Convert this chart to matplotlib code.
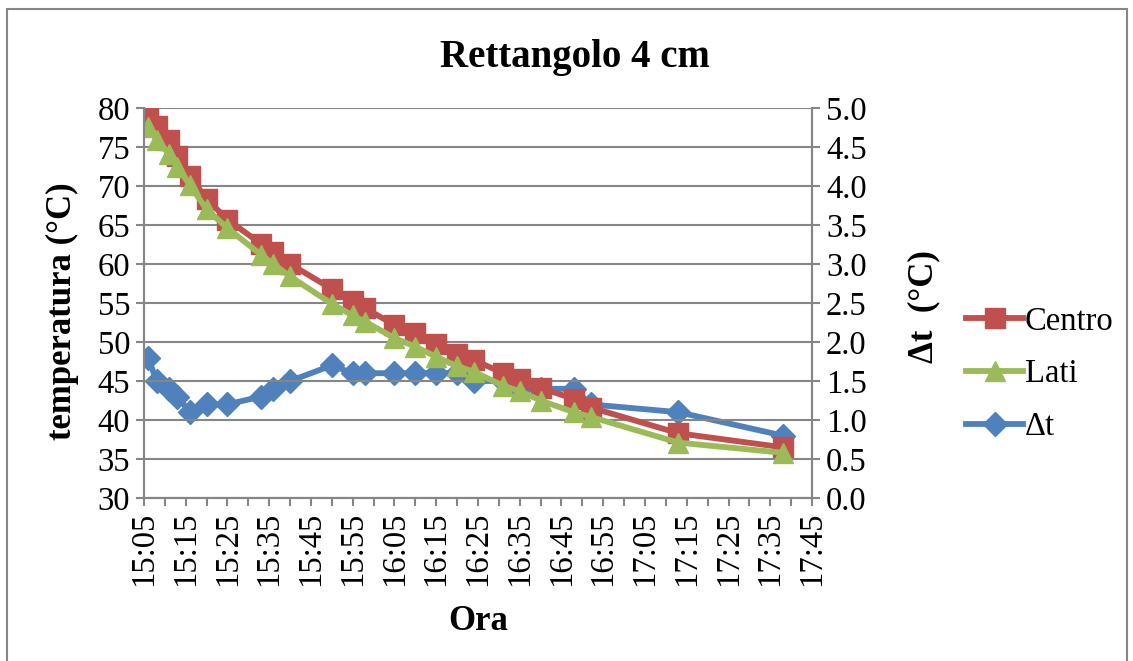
import numpy as np
import pandas as pd
import matplotlib
matplotlib.use("Agg")
import matplotlib.pyplot as plt
import matplotlib.dates as mdates
from matplotlib.patches import Rectangle

plt.rcParams['font.family'] = ['Liberation Serif', 'DejaVu Serif']

# letture della temperatura nel tempo
ore = ["15:06", "15:08", "15:11", "15:13", "15:16", "15:20", "15:25", "15:33",
       "15:36", "15:40", "15:50", "15:55", "15:58", "16:05", "16:10", "16:15",
       "16:20", "16:24", "16:31", "16:35", "16:40", "16:48", "16:52", "17:13",
       "17:38"]
centro = [79.4, 77.7, 75.9, 73.8, 71.3, 68.3, 65.7, 62.6, 61.5, 60.0, 56.8, 55.2,
          54.3, 52.2, 51.1, 49.8, 48.5, 47.7, 46.0, 45.3, 44.1, 42.7, 41.6, 38.3,
          36.5]
lati = [77.6, 75.9, 74.1, 72.4, 70.1, 67.0, 64.6, 61.2, 60.0, 58.4, 54.9, 53.4,
        52.6, 50.5, 49.4, 48.1, 46.9, 46.2, 44.4, 43.7, 42.5, 41.0, 40.4, 37.1,
        35.8]
delta_t = [1.8, 1.5, 1.4, 1.3, 1.1, 1.2, 1.2, 1.3, 1.4, 1.5, 1.7, 1.6, 1.6, 1.6,
           1.6, 1.6, 1.6, 1.5, 1.5, 1.4, 1.4, 1.4, 1.2, 1.1, 0.8]

ROSSO = "#C0504D"
VERDE = "#9BBB59"
BLU = "#4F81BD"
GRIGIO = "#868686"
FS = 23.5

t = pd.to_datetime(["2000-01-01 " + o for o in ore])
t0 = pd.Timestamp("2000-01-01 15:05")
t1 = pd.Timestamp("2000-01-01 17:45")

fig = plt.figure(figsize=(11.33, 6.61), dpi=100)
fig.patches.append(Rectangle((7/1133, -0.05), 1120/1133, 1.05 - 9/661,
                             transform=fig.transFigure, fill=False,
                             edgecolor=GRIGIO, lw=1.5))
ax = fig.add_axes([144/1133, 163/661, 668/1133, 390/661])
ax2 = ax.twinx()

l1, = ax.plot(t, centro, color=ROSSO, lw=4.2, marker='s', ms=14, label="Centro")
l2, = ax.plot(t, lati, color=VERDE, lw=4.2, marker='^', ms=15, label="Lati")
l3, = ax2.plot(t, delta_t, color=BLU, lw=4.2, marker='D', ms=12, label="Δt")

ax.set_zorder(ax2.get_zorder() + 1)
ax.patch.set_visible(False)

ax.set_xlim(t0, t1)
ax.set_ylim(30, 80)
ax.set_yticks(np.arange(30, 81, 5))
ax2.set_ylim(0, 5)
ax2.set_yticks(np.arange(0, 5.01, 0.5))
ax2.yaxis.set_major_formatter(matplotlib.ticker.FormatStrFormatter('%.1f'))

ax.xaxis.set_major_locator(mdates.MinuteLocator(byminute=range(5, 60, 10)))
ax.xaxis.set_minor_locator(mdates.MinuteLocator(byminute=range(0, 60, 10)))
ax.xaxis.set_major_formatter(mdates.DateFormatter('%H:%M'))
plt.setp(ax.get_xticklabels(), rotation=90)

ax.grid(axis='y', color=GRIGIO, lw=1.5)
ax.set_axisbelow(True)
for a in (ax, ax2):
    for s in a.spines.values():
        s.set_color(GRIGIO)
        s.set_linewidth(1.5)
    a.spines['top'].set_visible(False)
    a.tick_params(which='both', direction='out', length=6, width=1.5,
                  color=GRIGIO, labelsize=FS, pad=4)

ax.set_ylabel("temperatura (°C)", fontsize=25, fontweight='bold')
ax.yaxis.set_label_coords(-0.097, 0.48)
ax2.set_ylabel("Δt  (°C)", fontsize=25, fontweight='bold')
ax2.yaxis.set_label_coords(1.142, 0.49)
ax.set_xlabel("Ora", fontsize=25, fontweight='bold')
ax.xaxis.set_label_coords(0.5, -0.275)

fig.text(575/1133, 1 - 57/661, "Rettangolo 4 cm", ha='center', va='center',
         fontsize=28, fontweight='bold')

fig.legend(handles=[l1, l2, l3], loc='center left',
           bbox_to_anchor=(966/1133, 1 - 374/661), frameon=False,
           borderpad=0, borderaxespad=0, fontsize=FS, handlelength=1.75,
           handletextpad=0.05, labelspacing=0.68)

fig.savefig("out.png", dpi=100)
